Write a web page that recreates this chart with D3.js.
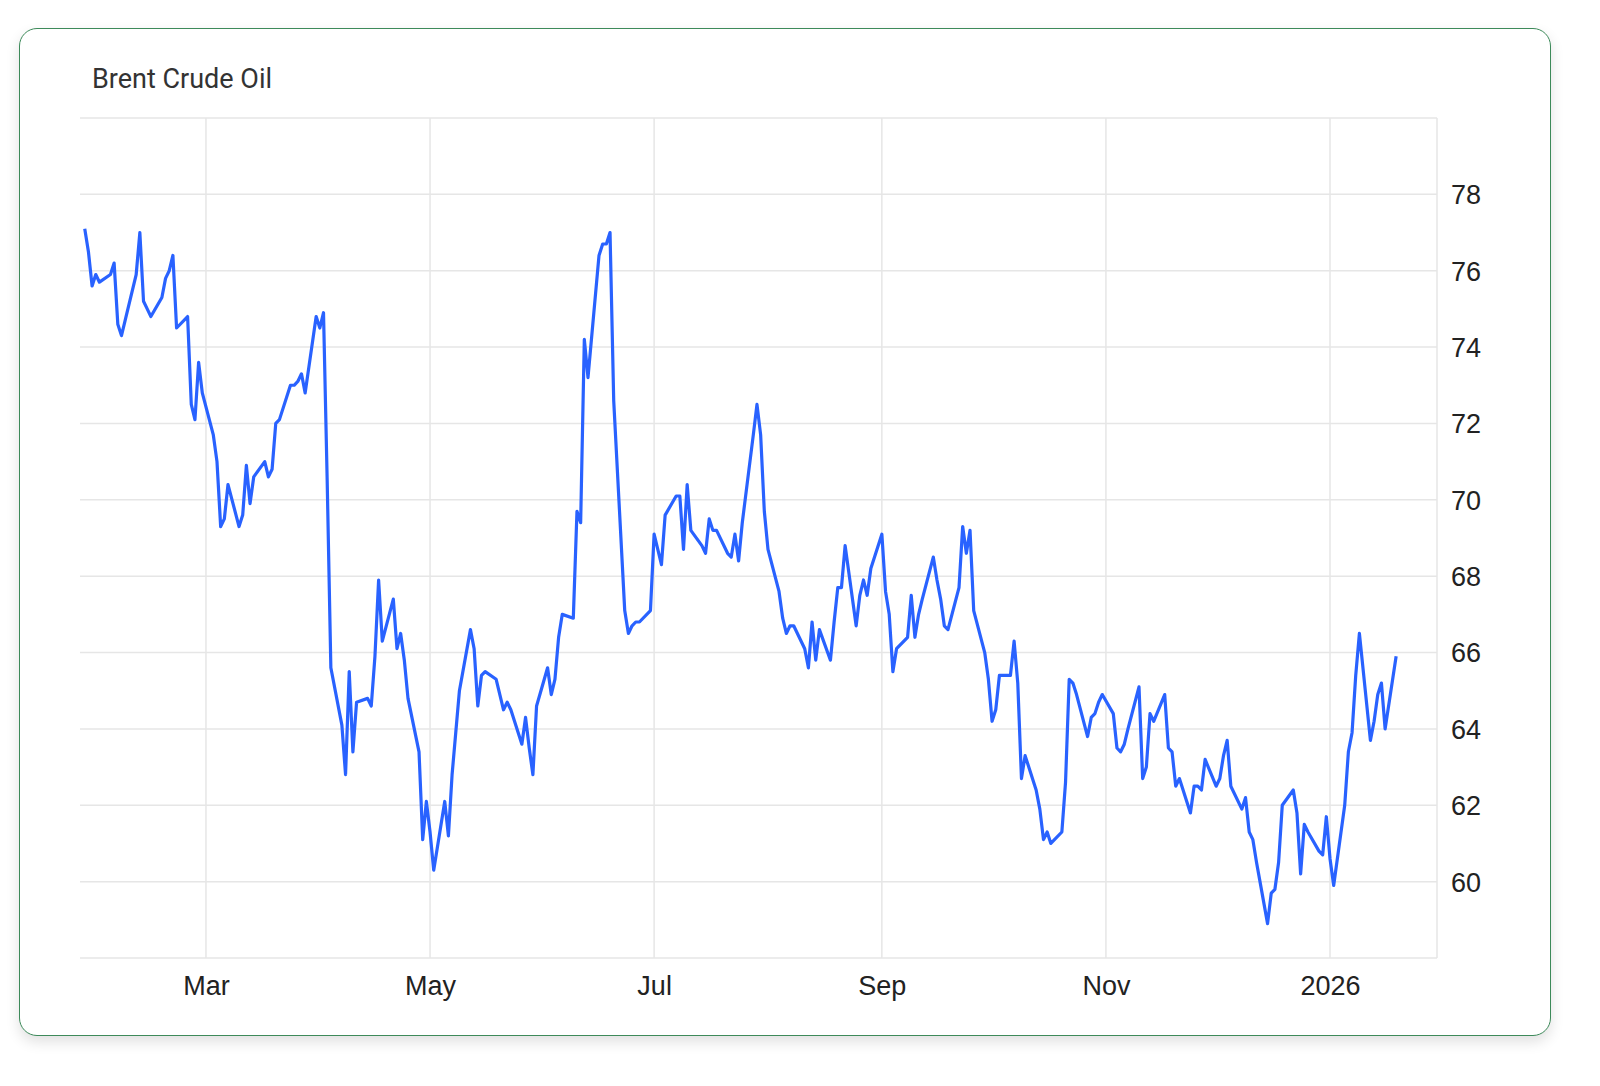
<!DOCTYPE html>
<meta charset="utf-8">
<style>
    html, body { margin: 0; background: #fff; overflow: hidden; font-family: Roboto, "Noto Sans", Arial, sans-serif; }
    .card { position: absolute; left: 19px; top: 28px; width: 1530px; height: 1006px;
            border: 1.5px solid #3d8a5a; border-radius: 18px; box-shadow: 0 6px 14px rgba(0,0,0,0.12); background: #fff; }
    svg { position: absolute; left: 0; top: 0; }
    .grid line { stroke: #e6e6e6; stroke-width: 1.5px; }
    .tick text { fill: #222; font-size: 27px; }
</style>
<body>
<div class="card"></div>
<script src="https://cdn.jsdelivr.net/npm/d3@7"></script>
<script>
    var title = "Brent Crude Oil";
    var startDate = "2025-01-27"; // first trading day shown, one value per weekday
    var prices = [
        77.1, 76.5, 75.6, 75.9, 75.7, 75.9, 76.2, 74.6, 74.3, 74.7, 75.9, 77.0, 75.2, 75.0, 74.8, 75.3, 75.8, 76.0, 76.4, 74.5,
        74.8, 72.5, 72.1, 73.6, 72.8, 71.7, 71.0, 69.3, 69.5, 70.4, 69.3, 69.6, 70.9, 69.9, 70.6, 71.0, 70.6, 70.8, 72.0, 72.1,
        73.0, 73.0, 73.1, 73.3, 72.8, 74.8, 74.5, 74.9, 70.5, 65.6, 64.1, 62.8, 65.5, 63.4, 64.7, 64.8, 64.6, 65.9, 67.9, 66.3,
        67.4, 66.1, 66.5, 65.8, 64.8, 63.4, 61.1, 62.1, 61.3, 60.3, 62.1, 61.2, 62.8, 63.9, 65.0, 66.6, 66.1, 64.6, 65.4, 65.5,
        65.3, 64.9, 64.5, 64.7, 64.5, 63.6, 64.3, 63.5, 62.8, 64.6, 65.6, 64.9, 65.3, 66.4, 67.0, 66.9, 69.7, 69.4, 74.2, 73.2,
        76.4, 76.7, 76.7, 77.0, 72.6, 67.1, 66.5, 66.7, 66.8, 66.8, 67.1, 69.1, 68.7, 68.3, 69.6, 70.1, 70.1, 68.7, 70.4, 69.2,
        68.8, 68.6, 69.5, 69.2, 69.2, 68.6, 68.5, 69.1, 68.4, 69.4, 71.7, 72.5, 71.7, 69.7, 68.7, 67.6, 66.9, 66.5, 66.7, 66.7,
        66.1, 65.6, 66.8, 65.8, 66.6, 65.8, 66.8, 67.7, 67.7, 68.8, 66.7, 67.5, 67.9, 67.5, 68.2, 69.1, 67.6, 67.0, 65.5, 66.1,
        66.4, 67.5, 66.4, 67.0, 67.4, 68.5, 67.9, 67.4, 66.7, 66.6, 67.7, 69.3, 68.6, 69.2, 67.1, 66.0, 65.3, 64.2, 64.5, 65.4,
        65.4, 66.3, 65.2, 62.7, 63.3, 62.4, 61.9, 61.1, 61.3, 61.0, 61.3, 62.6, 65.3, 65.2, 64.9, 63.8, 64.3, 64.4, 64.7, 64.9,
        64.4, 63.5, 63.4, 63.6, 64.0, 65.1, 62.7, 63.0, 64.4, 64.2, 64.9, 63.5, 63.4, 62.5, 62.7, 61.8, 62.5, 62.5, 62.4, 63.2,
        62.5, 62.7, 63.3, 63.7, 62.5, 61.9, 62.2, 61.3, 61.1, 60.5, 58.9, 59.7, 59.8, 60.5, 62.0, 62.4, 61.8, 60.2, 61.5, 61.3,
        60.8, 60.7, 61.7, 60.6, 59.9, 62.0, 63.4, 63.9, 65.4, 66.5, 63.7, 64.2, 64.9, 65.2, 64.0, 65.9
    ];
    var yTicks = [60, 62, 64, 66, 68, 70, 72, 74, 76, 78];
    var yGrid = [58, 60, 62, 64, 66, 68, 70, 72, 74, 76, 78, 80];

    // build weekday dates for the values
    var data = [], d = new Date(startDate + "T00:00:00");
    prices.forEach(function (v) {
        while (d.getDay() === 0 || d.getDay() === 6) d = d3.timeDay.offset(d, 1);
        data.push({ date: d, value: v });
        d = d3.timeDay.offset(d, 1);
    });

    var pLeft = 80, pRight = 1437, pTop = 118, pBottom = 958;
    var svg = d3.select("body").append("svg").attr("width", 1600).attr("height", 1086);

    var x = d3.scaleTime()
        .domain([new Date(2025, 0, 25, 17), new Date(2026, 0, 30, 3)])
        .range([pLeft, pRight]);
    var y = d3.scaleLinear().domain([58, 80]).range([pBottom, pTop]);

    var grid = svg.append("g").attr("class", "grid");
    grid.selectAll(".h").data(yGrid).enter().append("line")
        .attr("x1", pLeft).attr("x2", pRight).attr("y1", y).attr("y2", y);
    var months = x.ticks(d3.timeMonth.every(2));
    grid.selectAll(".v").data(months).enter().append("line")
        .attr("x1", x).attr("x2", x).attr("y1", pTop).attr("y2", pBottom);
    grid.append("line").attr("x1", pRight).attr("x2", pRight).attr("y1", pTop).attr("y2", pBottom);

    var xAxis = svg.append("g").attr("transform", "translate(0," + (pBottom + 4) + ")")
        .call(d3.axisBottom(x).tickValues(months).tickSize(0).tickPadding(14)
            .tickFormat(function (t) { return t.getMonth() === 0 ? d3.timeFormat("%Y")(t) : d3.timeFormat("%b")(t); }));
    xAxis.select(".domain").remove();

    var yAxis = svg.append("g").attr("transform", "translate(" + (pRight + 14) + ",0)")
        .call(d3.axisRight(y).tickValues(yTicks).tickSize(0).tickPadding(0));
    yAxis.select(".domain").remove();
    yAxis.selectAll("text").attr("dy", "0.35em");

    svg.append("path").datum(data)
        .attr("fill", "none").attr("stroke", "#2962ff").attr("stroke-width", 3.2)
        .attr("stroke-linejoin", "round")
        .attr("d", d3.line().x(function (p) { return x(p.date); }).y(function (p) { return y(p.value); }));

    svg.append("text").attr("x", 92).attr("y", 88).attr("fill", "#333")
        .style("font-size", "27px").text(title);
</script>
</body>
